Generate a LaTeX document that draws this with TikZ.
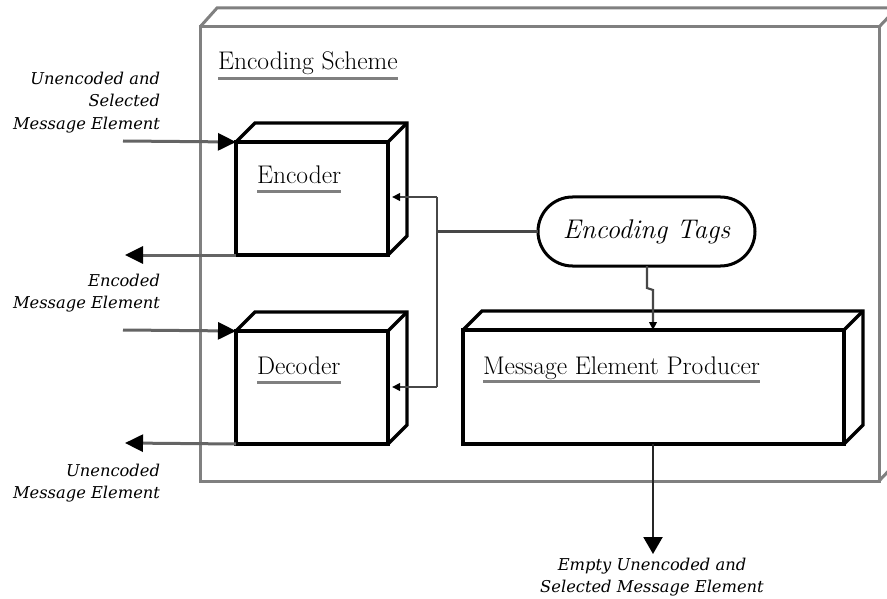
\documentclass[tikz,border=0pt]{standalone}
\usepackage{fontspec}
\newfontfamily\lblfont{DejaVu Serif}
\usetikzlibrary{arrows.meta,calc}

\definecolor{framegray}{RGB}{128,128,128}
\definecolor{wiregray}{RGB}{100,100,100}

% top and right faces of a 3D box whose front face is node #1
\newcommand\cubeback[2]{%
  \draw[face] (#1.north west) -- ++(#2,-#2) -- ($(#1.north east)+(#2,-#2)$)
    -- ($(#1.south east)+(#2,-#2)$) -- (#1.south east);
  \draw[face] (#1.north east) -- ++(#2,-#2);
}

\begin{document}
\begin{tikzpicture}[x=1pt,y=-1pt,
  frame/.style={draw=framegray, line width=3pt, line join=miter},
  face/.style={draw=black, line width=3.4pt, line join=miter},
  frontbox/.style={draw=black, line width=3.4pt, fill=white, inner sep=0pt,
    outer sep=0pt, line join=miter},
  heading/.style={anchor=base west, inner sep=0pt, outer sep=0pt,
    font=\fontsize{25.5}{30}\selectfont},
  uline/.style={draw=framegray, line width=3pt},
  lbl/.style={inner sep=0pt, outer sep=0pt,
    font=\lblfont\itshape\fontsize{16.3}{22.5}\selectfont},
  inwire/.style={draw=wiregray, line width=3pt,
    -{Triangle[length=18pt,width=17pt,color=black]}},
  thinwire/.style={draw=black!72, line width=2.2pt},
  smallarrow/.style={-{Triangle[length=8pt,width=7.5pt,color=black]}},
]
\clip (0,0) rectangle (887,599);
\fill[white] (0,0) rectangle (887,599);

% Encoding Scheme container
\draw[frame] (200,27) rectangle (879,481);
\draw[frame] (200,27) -- ++(17,-19) -- (900,8);
\draw[frame] (879,27) -- ++(18,-19);
\draw[frame] (879,481) -- ++(18,-19);
\node[heading] (schemeT) at (218,70) {Encoding Scheme};
\draw[uline] ($(schemeT.base west)+(0,9)$) -- ($(schemeT.base east)+(0,9)$);

% free ends of the outer wires
\coordinate (encIn)   at (123,141);
\coordinate (encOut)  at (125,255);
\coordinate (decIn)   at (123,330);
\coordinate (decOut)  at (125,443);
\coordinate (mepOut)  at (653,554);

% Encoder
\node[frontbox, minimum width=152, minimum height=113] (enc) at (312,198.5) {};
\cubeback{enc}{19}
\node[heading] (encT) at (257,184) {Encoder};
\draw[uline] ($(encT.base west)+(0,8)$) -- ($(encT.base east)+(0,8)$);

% Decoder
\node[frontbox, minimum width=152, minimum height=113] (dec) at (312,387.5) {};
\cubeback{dec}{19}
\node[heading] (decT) at (257,374) {Decoder};
\draw[uline] ($(decT.base west)+(0,8)$) -- ($(decT.base east)+(0,8)$);

% Message Element Producer
\node[frontbox, minimum width=381, minimum height=114] (mep) at (653.5,387) {};
\cubeback{mep}{19}
\node[heading] (mepT) at (483,374) {Message Element Producer};
\draw[uline] ($(mepT.base west)+(0,7)$) -- ($(mepT.base east)+(0,7)$);

% Encoding Tags
\node[draw=black, line width=3pt, rounded corners=34.5pt, minimum width=217,
  minimum height=69, inner sep=0pt, outer sep=0pt, fill=white,
  font=\itshape\fontsize{27}{30}\selectfont] (tags) at (646.5,231.5) {Encoding Tags};

% wires between encoding tags and the encoder, decoder and producer
\coordinate (jTop) at (437,197);
\coordinate (jMid) at (437,231.5);
\coordinate (jBot) at (437,387);
\coordinate (encSide) at (392,197);
\coordinate (decSide) at (392,387);
\draw[thinwire, line width=2.6pt] (tags.west) -- (jMid);
\draw[thinwire] (jTop) -- (jBot);
\draw[thinwire, smallarrow] (jTop) -- (encSide);
\draw[thinwire, smallarrow] (jBot) -- (decSide);
\draw[thinwire, smallarrow] (tags.south -| 647,0) -- (647,288) -- (653,290) -- (mep.north -| 653,0);

% outer inputs and outputs
\draw[inwire] (encIn) -- (enc.north west);
\draw[inwire] (enc.south west) -- (encOut);
\draw[inwire] (decIn) -- (dec.north west);
\draw[inwire] (dec.south west) -- (decOut);
\draw[thinwire, draw=black!85, -{Triangle[length=17pt,width=19pt,color=black]}]
  (mep.south -| mepOut) -- (mepOut);

% wire labels
\node[lbl, align=right, anchor=north east] (l1) at (160,72)
  {Unencoded and\\Selected\\Message Element};
\node[lbl, align=right, anchor=north east] (l2) at (160,274)
  {Encoded\\Message Element};
\node[lbl, align=right, anchor=north east] (l3) at (160,464)
  {Unencoded\\Message Element};
\node[lbl, align=center, anchor=north] (l4) at (652,558)
  {Empty Unencoded and\\Selected Message Element};
\end{tikzpicture}
\end{document}
